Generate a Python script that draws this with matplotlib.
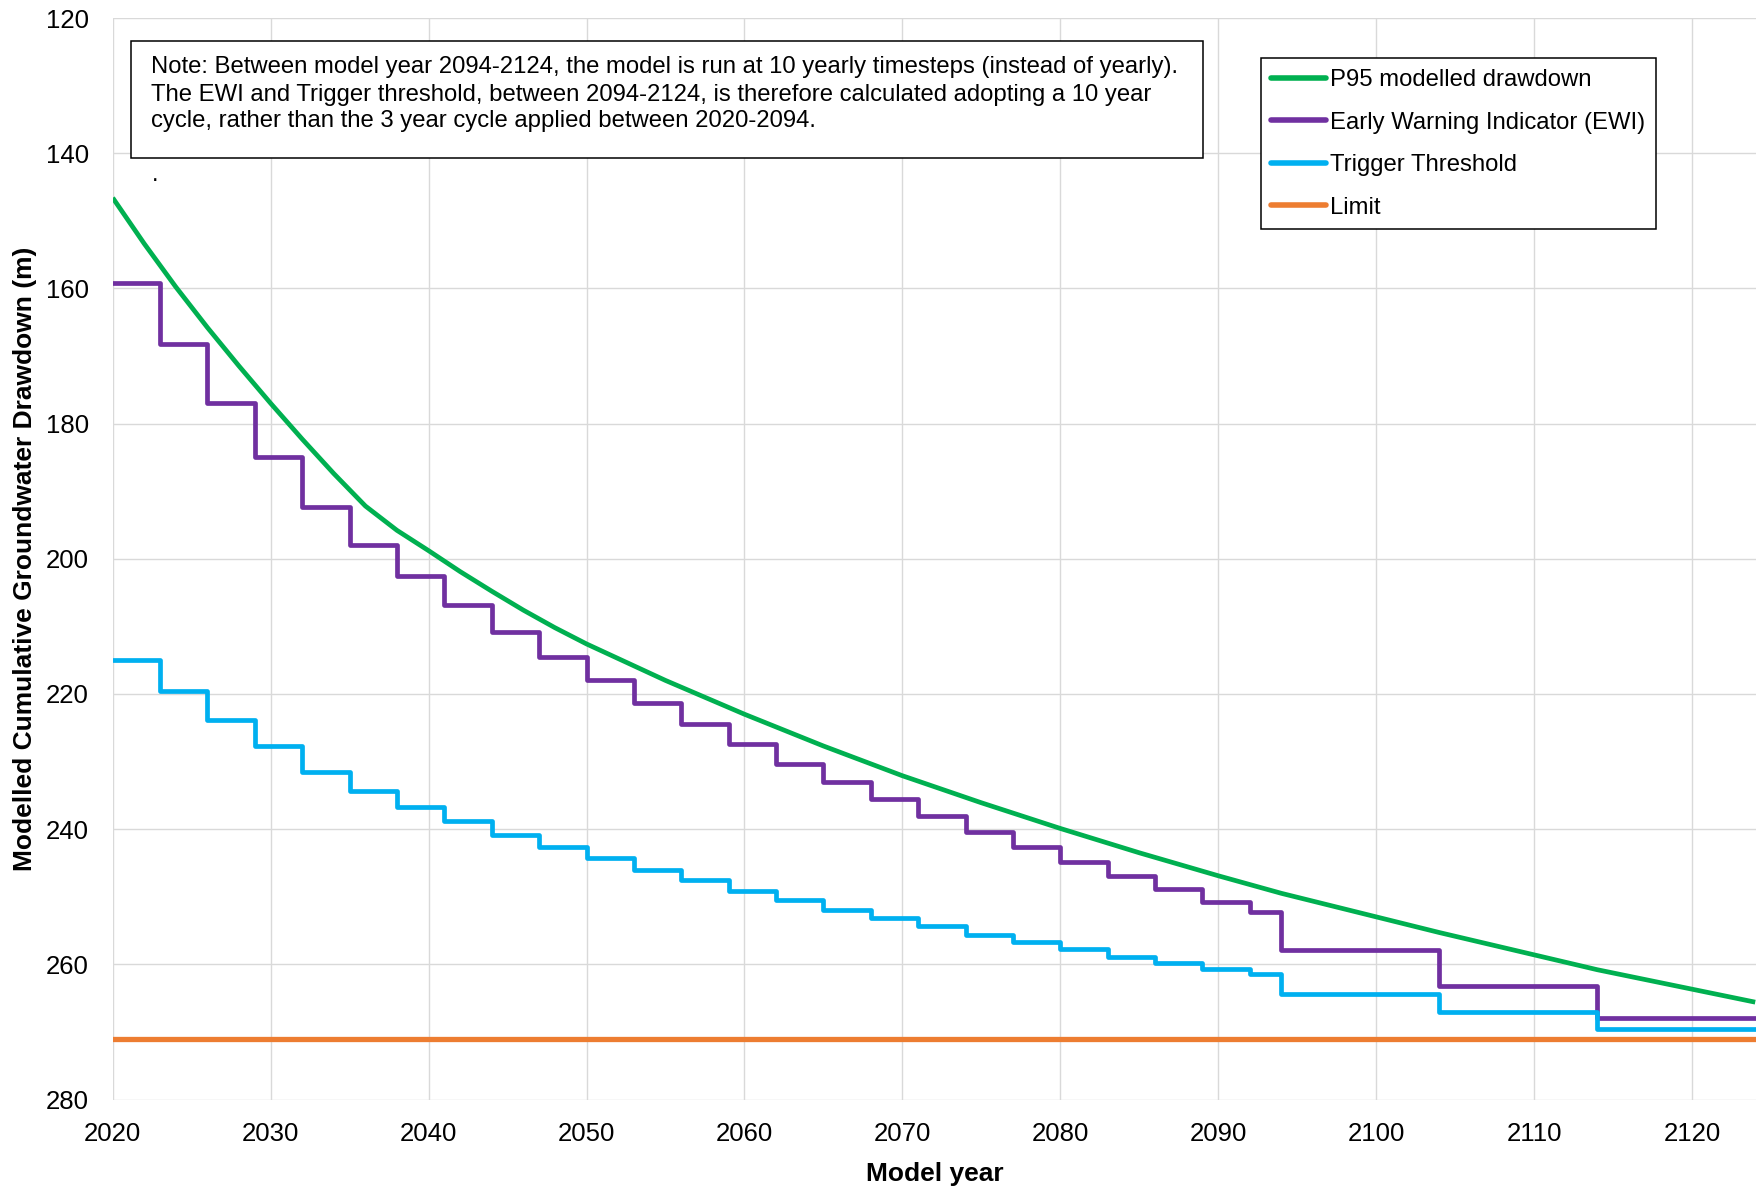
import matplotlib
matplotlib.use("Agg")
import matplotlib.pyplot as plt
from matplotlib.patches import Rectangle

plt.rcParams['font.family'] = ['Liberation Sans', 'DejaVu Sans']

# ---- data ----
p95_years = [2020, 2022, 2024, 2026, 2028, 2030, 2032, 2034, 2036, 2038, 2040, 2042,
             2044, 2046, 2048, 2050, 2055, 2060, 2065, 2070, 2075, 2080, 2085, 2090,
             2094, 2104, 2114, 2124]
p95_values = [146.6, 153.4, 159.8, 165.8, 171.5, 177.0, 182.3, 187.4, 192.2, 195.8, 198.8, 201.9,
              204.8, 207.6, 210.2, 212.6, 218.0, 223.0, 227.7, 232.1, 236.1, 239.9, 243.5, 246.9,
              249.5, 255.3, 260.8, 265.6]

step_years = [2020, 2023, 2026, 2029, 2032, 2035, 2038, 2041, 2044, 2047, 2050, 2053,
              2056, 2059, 2062, 2065, 2068, 2071, 2074, 2077, 2080, 2083, 2086, 2089,
              2092, 2094, 2104, 2114]
end_year = 2124

ewi_values = [159.2, 168.3, 177.0, 185.0, 192.3, 198.0, 202.6, 206.8, 210.9, 214.6, 218.0, 221.3,
              224.5, 227.4, 230.3, 233.0, 235.6, 238.0, 240.4, 242.7, 244.9, 246.9, 248.9, 250.8,
              252.2, 257.9, 263.2, 268.0]

trigger_values = [215.0, 219.6, 223.8, 227.7, 231.5, 234.3, 236.7, 238.8, 240.8, 242.6, 244.3, 246.0,
                  247.5, 249.1, 250.5, 251.9, 253.2, 254.4, 255.6, 256.7, 257.8, 258.9, 259.8, 260.7,
                  261.4, 264.4, 267.0, 269.5]

limit_value = 271.0

x_ticks = list(range(2020, 2121, 10))
y_ticks = list(range(120, 281, 20))

series_labels = ["P95 modelled drawdown", "Early Warning Indicator (EWI)",
                 "Trigger Threshold", "Limit"]

note_lines = [
    "Note: Between model year 2094-2124, the model is run at 10 yearly timesteps (instead of yearly).",
    "The EWI and Trigger threshold, between 2094-2124, is therefore calculated adopting a 10 year",
    "cycle, rather than the 3 year cycle applied between 2020-2094.",
]

# ---- figure ----
W, H = 1759, 1189
fig = plt.figure(figsize=(W / 100, H / 100), dpi=100)
ax_l, ax_r, ax_t, ax_b = 112.7, 1756.0, 18.0, 1099.5
ax = fig.add_axes([ax_l / W, 1 - ax_b / H, (ax_r - ax_l) / W, (ax_b - ax_t) / H])
axw, axh = ax_r - ax_l, ax_b - ax_t

def ax_x(px):
    return (px - ax_l) / axw

def ax_y(py):
    return 1 - (py - ax_t) / axh

green, purple, cyan, orange = "#00B050", "#7030A0", "#00B0F0", "#ED7D31"
lw = 3.4

ax.plot(p95_years, p95_values, color=green, lw=lw, label=series_labels[0],
        solid_capstyle='butt', solid_joinstyle='round', zorder=3)
ax.step(step_years + [end_year], ewi_values + [ewi_values[-1]], where='post', color=purple,
        lw=lw, label=series_labels[1], solid_joinstyle='round', zorder=3)
ax.step(step_years + [end_year], trigger_values + [trigger_values[-1]], where='post', color=cyan,
        lw=lw, label=series_labels[2], solid_joinstyle='round', zorder=3)
ax.plot([step_years[0], end_year], [limit_value, limit_value], color=orange, lw=3.8,
        label=series_labels[3], zorder=3)

ax.set_xlim(2020, 2124.05)
ax.set_ylim(280, 120)
ax.set_xticks(x_ticks)
ax.set_yticks(y_ticks)
ax.grid(True, color="#d9d9d9", lw=1.0, zorder=0)
ax.set_axisbelow(True)
for s in ax.spines.values():
    s.set_visible(False)
ax.tick_params(axis='both', length=0, labelsize=18.5, colors='black')
ax.tick_params(axis='x', pad=16.5)
ax.tick_params(axis='y', pad=17)

ax.set_xlabel("Model year", fontsize=19, fontweight='bold')
ax.xaxis.set_label_coords(0.5, ax_y(1161.5))
ax.set_ylabel("Modelled Cumulative Groundwater Drawdown (m)", fontsize=19, fontweight='bold')
ax.yaxis.set_label_coords(ax_x(37.5), ax_y(558.8))

# note box
nx0, nx1, ny0, ny1 = 131, 1203, 41, 158
ax.add_patch(Rectangle((ax_x(nx0), ax_y(ny1)), ax_x(nx1) - ax_x(nx0), ax_y(ny0) - ax_y(ny1),
                       transform=ax.transAxes, facecolor='white', edgecolor='black',
                       lw=1.1, zorder=5, clip_on=False))
for i, line in enumerate(note_lines):
    ax.text(ax_x(151), ax_y(73.5 + 27 * i), line, transform=ax.transAxes, fontsize=17.2,
            ha='left', va='baseline', zorder=6)
ax.text(ax_x(152), ax_y(181), ".", transform=ax.transAxes, fontsize=17.2,
        ha='left', va='baseline', zorder=6)

leg = ax.legend(loc='upper left', bbox_to_anchor=(ax_x(1260.7), ax_y(58.3)),
                bbox_transform=ax.transAxes, fontsize=17.2, frameon=True, fancybox=False,
                borderpad=0.45, labelspacing=0.86, handlelength=2.3, handletextpad=0.17,
                borderaxespad=0)
leg.get_frame().set_edgecolor('black')
leg.get_frame().set_linewidth(1.1)
leg.get_frame().set_alpha(1)
leg.set_zorder(6)
for h in leg.get_lines():
    h.set_linewidth(4.0)
    h.set_solid_capstyle('round')

fig.savefig("out.png", dpi=100)
